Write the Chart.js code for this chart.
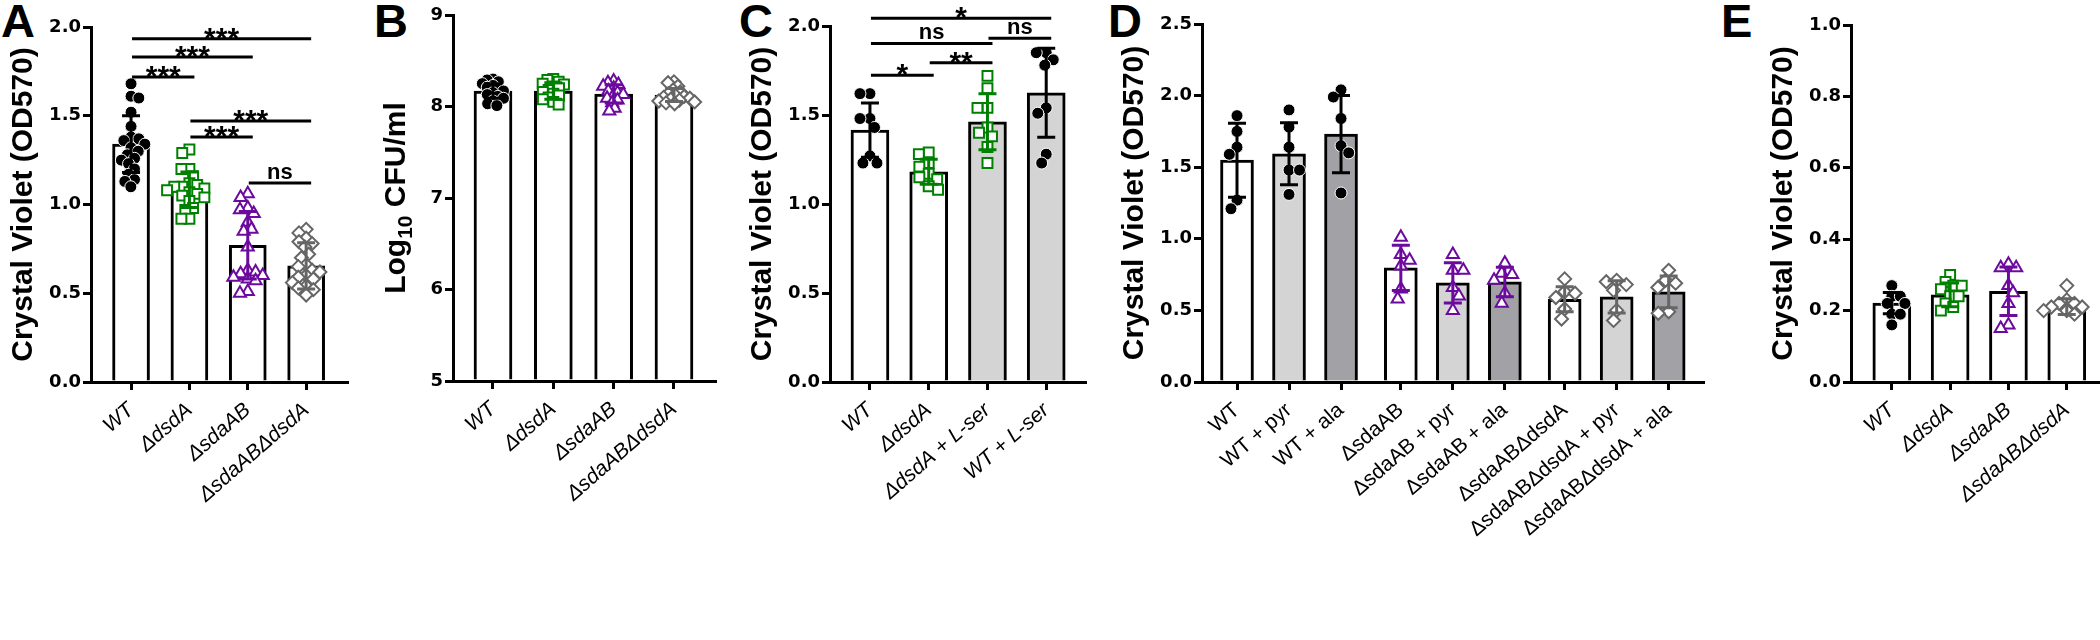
<!DOCTYPE html>
<html>
<head>
<meta charset="utf-8">
<title>Crystal violet biofilm panels</title>
<script src="https://cdn.jsdelivr.net/npm/chart.js"></script>
<style>
  body { margin: 0; width: 2100px; height: 640px; overflow: hidden; background: #fff; position: relative; }
  canvas { position: absolute; top: 0; }
  .tag { position: absolute; top: -3px; font: bold 47px "Liberation Sans", Arial, sans-serif; line-height: 1; color: #000; }
</style>
</head>
<body>
<div class="tag" style="left:1px">A</div>
<div class="tag" style="left:374px">B</div>
<div class="tag" style="left:739px">C</div>
<div class="tag" style="left:1108px">D</div>
<div class="tag" style="left:1721px">E</div>
<script>
const FONT = '"Liberation Sans", Arial, sans-serif';
const TICKFONT = '"DejaVu Sans", sans-serif';

// ---- A: biofilm, strains
const catsA = ['WT', 'ΔdsdA', 'ΔsdaAB', 'ΔsdaABΔdsdA'];
const meanA = [1.34, 1.083, 0.77, 0.654];
const sdA = [0.16, 0.10, 0.19, 0.13];
const ptsA = [
  [1.68, 1.61, 1.60, 1.52, 1.44, 1.38, 1.37, 1.36, 1.34, 1.32, 1.30, 1.28, 1.26, 1.25, 1.23, 1.20, 1.17, 1.14, 1.13, 1.10],
  [1.31, 1.29, 1.20, 1.20, 1.16, 1.12, 1.11, 1.10, 1.10, 1.09, 1.08, 1.07, 1.06, 1.05, 1.04, 1.02, 0.98, 0.97, 0.92, 0.92],
  [1.06, 1.04, 0.98, 0.97, 0.95, 0.90, 0.86, 0.85, 0.76, 0.63, 0.62, 0.61, 0.60, 0.59, 0.58, 0.57, 0.51, 0.50],
  [0.86, 0.84, 0.81, 0.79, 0.78, 0.76, 0.72, 0.70, 0.66, 0.65, 0.63, 0.62, 0.60, 0.59, 0.58, 0.56, 0.54, 0.53, 0.52, 0.49]
];
const sigA = [[0, 1, 1.718, '***'], [0, 2, 1.831, '***'], [0, 3, 1.934, '***'], [1, 2, 1.38, '***'], [1, 3, 1.47, '***'], [2, 3, 1.121, 'ns']];

// ---- B: growth
const catsB = ['WT', 'ΔdsdA', 'ΔsdaAB', 'ΔsdaABΔdsdA'];
const meanB = [8.169, 8.169, 8.137, 8.126];
const sdB = [0.08, 0.09, 0.10, 0.07];
const ptsB = [
  [8.30, 8.29, 8.27, 8.25, 8.23, 8.21, 8.19, 8.17, 8.15, 8.13, 8.11, 8.09, 8.06, 8.03, 8.01],
  [8.30, 8.29, 8.27, 8.25, 8.24, 8.22, 8.20, 8.18, 8.16, 8.14, 8.12, 8.10, 8.08, 8.05, 8.02],
  [8.28, 8.26, 8.24, 8.22, 8.20, 8.17, 8.15, 8.13, 8.11, 8.09, 8.07, 8.04, 7.98, 7.95],
  [8.27, 8.26, 8.22, 8.18, 8.16, 8.14, 8.12, 8.11, 8.10, 8.09, 8.08, 8.07, 8.06, 8.05, 8.04, 8.03]
];

// ---- C: L-serine
const catsC = ['WT', 'ΔdsdA', 'ΔdsdA + L-ser', 'WT + L-ser'];
const meanC = [1.415, 1.181, 1.462, 1.625];
const sdC = [0.152, 0.07, 0.157, 0.25];
const ptsC = [
  [1.62, 1.62, 1.48, 1.48, 1.43, 1.27, 1.23, 1.23],
  [1.29, 1.28, 1.23, 1.21, 1.17, 1.15, 1.14, 1.10, 1.08],
  [1.72, 1.65, 1.54, 1.54, 1.43, 1.40, 1.38, 1.32, 1.23],
  [1.85, 1.85, 1.81, 1.78, 1.54, 1.51, 1.28, 1.23]
];
const sigC = [[0, 1, 1.724, '*'], [1, 2, 1.794, '**'], [0, 2, 1.902, 'ns'], [2, 3, 1.931, 'ns'], [0, 3, 2.043, '*']];

// ---- D: pyruvate / alanine
const catsD = ['WT', 'WT + pyr', 'WT + ala', 'ΔsdaAB', 'ΔsdaAB + pyr', 'ΔsdaAB + ala',
  'ΔsdaABΔdsdA', 'ΔsdaABΔdsdA + pyr', 'ΔsdaABΔdsdA + ala'];
const meanD = [1.549, 1.594, 1.731, 0.797, 0.692, 0.699, 0.578, 0.594, 0.629];
const sdD = [0.258, 0.216, 0.27, 0.158, 0.14, 0.103, 0.088, 0.113, 0.111];
const ptsD = [
  [1.86, 1.75, 1.64, 1.59, 1.27, 1.21],
  [1.90, 1.78, 1.64, 1.48, 1.48, 1.31],
  [2.04, 1.99, 1.84, 1.65, 1.60, 1.32],
  [1.01, 0.89, 0.85, 0.81, 0.65, 0.58],
  [0.89, 0.78, 0.78, 0.66, 0.60, 0.50],
  [0.83, 0.76, 0.75, 0.71, 0.62, 0.55],
  [0.72, 0.63, 0.62, 0.59, 0.51, 0.44],
  [0.71, 0.70, 0.68, 0.64, 0.50, 0.43],
  [0.78, 0.71, 0.69, 0.66, 0.49, 0.48]
];

// ---- E
const catsE = ['WT', 'ΔdsdA', 'ΔsdaAB', 'ΔsdaABΔdsdA'];
const meanE = [0.221, 0.244, 0.254, 0.211];
const sdE = [0.03, 0.033, 0.068, 0.022];
const ptsE = [
  [0.27, 0.24, 0.24, 0.22, 0.22, 0.19, 0.19, 0.16],
  [0.30, 0.28, 0.27, 0.27, 0.26, 0.24, 0.24, 0.22, 0.21, 0.20],
  [0.33, 0.32, 0.32, 0.27, 0.25, 0.22, 0.16, 0.15],
  [0.27, 0.23, 0.22, 0.22, 0.21, 0.21, 0.20, 0.20, 0.19]
];

// marker look per strain
const STYLE = {
  wt:    { color: '#000000', shape: 'circle',   fill: '#000000', border: '#ffffff', bw: 1, r: 6 },
  dsdA:  { color: '#008000', shape: 'rect',     fill: '#ffffff', border: '#008000', bw: 2, r: 7 },
  sdaAB: { color: '#6c0a9e', shape: 'triangle', fill: '#ffffff', border: '#6c0a9e', bw: 2, r: 7 },
  both:  { color: '#666666', shape: 'rectRot',  fill: '#ffffff', border: '#666666', bw: 2, r: 6.5 }
};
const LIGHT = '#d4d4d4', DARK = '#a2a2a6';

const H = 640;
const Y_BOX = 110;

function makePanel(cfg) {
  const cv = document.createElement('canvas');
  cv.width = cfg.right - cfg.axisX + Y_BOX + 30;
  cv.height = H;
  cv.style.left = (cfg.axisX - Y_BOX) + 'px';
  document.body.appendChild(cv);

  const gs = cfg.groupSize || 99, gg = cfg.groupGap || 0;
  const xpos = cfg.cats.map((c, i) => i + Math.floor(i / gs) * gg);
  const styles = cfg.kinds.map(k => STYLE[k]);

  const datasets = [{
    type: 'bar',
    data: cfg.means.map((m, i) => ({ x: xpos[i], y: m })),
    backgroundColor: cfg.fills,
    borderColor: '#000',
    borderWidth: 3,
    barThickness: cfg.barW,
    base: cfg.ymin,
    order: 2
  }];
  cfg.pts.forEach((vals, i) => {
    const st = styles[i];
    datasets.push({
      type: 'scatter',
      data: vals.map(v => ({ x: xpos[i], y: v })),
      pointStyle: st.shape,
      pointRadius: st.r,
      backgroundColor: st.fill,
      borderColor: st.border,
      borderWidth: st.bw,
      order: 1
    });
  });

  const decor = {
    id: 'decor',
    afterDatasetsDraw(chart) {
      const { ctx } = chart, xs = chart.scales.x, ys = chart.scales.y;
      cfg.means.forEach((m, i) => {
        const x = xs.getPixelForValue(xpos[i]);
        const y1 = ys.getPixelForValue(m + cfg.sds[i]);
        const y2 = ys.getPixelForValue(m - cfg.sds[i]);
        ctx.save();
        ctx.strokeStyle = styles[i].color;
        ctx.lineWidth = 3;
        ctx.beginPath();
        ctx.moveTo(x, y1); ctx.lineTo(x, y2);
        ctx.moveTo(x - 9, y1); ctx.lineTo(x + 9, y1);
        ctx.moveTo(x - 9, y2); ctx.lineTo(x + 9, y2);
        ctx.stroke();
        ctx.restore();
      });
    },
    afterDraw(chart) {
      const { ctx, chartArea: ca } = chart, xs = chart.scales.x, ys = chart.scales.y;
      ctx.save();
      ctx.fillStyle = '#000';
      ctx.strokeStyle = '#000';
      (cfg.sig || []).forEach(([a, b, v, t]) => {
        const x1 = xs.getPixelForValue(xpos[a]) + 1;
        const x2 = xs.getPixelForValue(xpos[b]) + 5;
        const y = ys.getPixelForValue(v);
        ctx.lineWidth = 3;
        ctx.beginPath(); ctx.moveTo(x1, y); ctx.lineTo(x2, y); ctx.stroke();
        const star = t.includes('*');
        ctx.font = (star ? 'bold 30px ' : 'bold 22px ') + FONT;
        ctx.textAlign = 'center';
        ctx.textBaseline = 'alphabetic';
        ctx.fillText(t, (x1 + x2) / 2, star ? y + 9 : y - 4);
      });

      // y axis title
      ctx.translate(ca.left - cfg.titleOff, (ca.top + ca.bottom) / 2);
      ctx.rotate(-Math.PI / 2);
      ctx.textBaseline = 'alphabetic';
      const big = 'bold 30px ' + FONT, small = 'bold 21px ' + FONT;
      if (cfg.title.length === 3) {
        const [p1, sub, p2] = cfg.title;
        ctx.font = big; const w1 = ctx.measureText(p1).width, w3 = ctx.measureText(p2).width;
        ctx.font = small; const w2 = ctx.measureText(sub).width;
        let x = -(w1 + w2 + w3) / 2;
        ctx.textAlign = 'left';
        ctx.font = big; ctx.fillText(p1, x, 0); x += w1;
        ctx.font = small; ctx.fillText(sub, x, 7); x += w2;
        ctx.font = big; ctx.fillText(p2, x, 0);
      } else {
        ctx.font = big;
        ctx.textAlign = 'center';
        ctx.fillText(cfg.title[0], 0, 0);
      }
      ctx.restore();
    }
  };

  const axisLine = { display: true, width: 3, color: '#000' };
  const tickMarks = { display: true, drawOnChartArea: false, drawTicks: true, tickLength: 8, lineWidth: 3, color: '#000', offset: false };

  const chart = new Chart(cv, {
    type: 'bar',
    data: { datasets },
    plugins: [decor],
    options: {
      responsive: false,
      animation: false,
      events: [],
      layout: { padding: { left: 0, right: 30, top: cfg.top, bottom: 0 } },
      plugins: { legend: { display: false }, tooltip: { enabled: false } },
      scales: {
        x: {
          type: 'linear',
          min: cfg.xmin, max: cfg.xmax,
          offset: false,
          grid: tickMarks,
          border: axisLine,
          afterBuildTicks: s => { s.ticks = xpos.map(v => ({ value: v })); },
          afterFit: s => { s.height = H - cfg.bottom; },
          ticks: {
            autoSkip: false,
            minRotation: 41, maxRotation: 41,
            padding: 8,
            color: '#000',
            font: { family: FONT, size: 21, style: cfg.italic ? 'italic' : 'normal' },
            callback: (v, i) => cfg.cats[i]
          }
        },
        y: {
          min: cfg.ymin, max: cfg.ymax,
          grid: tickMarks,
          border: axisLine,
          afterFit: s => { s.width = Y_BOX; },
          ticks: {
            stepSize: cfg.step,
            padding: 2,
            color: '#000',
            font: { family: TICKFONT, size: 18, weight: 'bold' },
            callback: v => v.toFixed(cfg.dec)
          }
        }
      }
    }
  });

  // lay the points out side by side, like a column scatter
  const xs = chart.scales.x, ys = chart.scales.y;
  cfg.pts.forEach((vals, i) => {
    const ds = chart.data.datasets[i + 1];
    const cx = xs.getPixelForValue(xpos[i]);
    const d = cfg.gap;
    const placed = [];
    ds.data = vals.map((v, k) => {
      const py = ys.getPixelForValue(v);
      const cands = [0];
      placed.forEach(p => {
        const dy = Math.abs(p.y - py);
        if (dy < d) {
          const w = Math.sqrt(d * d - dy * dy);
          cands.push(p.x - w, p.x + w);
        }
      });
      cands.sort((a, b) => Math.abs(a) - Math.abs(b) || (k % 2 ? a - b : b - a));
      const dx = cands.find(c => placed.every(p => (p.x - c) ** 2 + (p.y - py) ** 2 >= d * d - 0.5));
      placed.push({ x: dx, y: py });
      return { x: xs.getValueForPixel(cx + dx), y: v };
    });
  });
  chart.update('none');
  return chart;
}

makePanel({
  cats: catsA, means: meanA, sds: sdA, pts: ptsA, sig: sigA,
  kinds: ['wt', 'dsdA', 'sdaAB', 'both'],
  fills: ['#fff', '#fff', '#fff', '#fff'],
  axisX: 91, right: 347, top: 27, bottom: 382,
  xmin: -0.686, xmax: 3.70, ymin: 0, ymax: 2.0, step: 0.5, dec: 1,
  barW: 37, italic: true, gap: 8,
  title: ['Crystal Violet (OD570)'], titleOff: 59
});

makePanel({
  cats: catsB, means: meanB, sds: sdB, pts: ptsB,
  kinds: ['wt', 'dsdA', 'sdaAB', 'both'],
  fills: ['#fff', '#fff', '#fff', '#fff'],
  axisX: 453, right: 715, top: 15, bottom: 381,
  xmin: -0.663, xmax: 3.68, ymin: 5, ymax: 9, step: 1, dec: 0,
  barW: 38, italic: true, gap: 6,
  title: ['Log', '10', ' CFU/ml'], titleOff: 48
});

makePanel({
  cats: catsC, means: meanC, sds: sdC, pts: ptsC, sig: sigC,
  kinds: ['wt', 'dsdA', 'dsdA', 'wt'],
  fills: ['#fff', '#fff', LIGHT, LIGHT],
  axisX: 830, right: 1085, top: 26, bottom: 382,
  xmin: -0.68, xmax: 3.66, ymin: 0, ymax: 2.0, step: 0.5, dec: 1,
  barW: 38, italic: true, gap: 10,
  title: ['Crystal Violet (OD570)'], titleOff: 59
});

makePanel({
  cats: catsD, means: meanD, sds: sdD, pts: ptsD,
  kinds: ['wt', 'wt', 'wt', 'sdaAB', 'sdaAB', 'sdaAB', 'both', 'both', 'both'],
  fills: ['#fff', LIGHT, DARK, '#fff', LIGHT, DARK, '#fff', LIGHT, DARK],
  groupSize: 3, groupGap: 0.15,
  axisX: 1202, right: 1703, top: 24, bottom: 382,
  xmin: -0.673, xmax: 8.96, ymin: 0, ymax: 2.5, step: 0.5, dec: 1,
  barW: 33, italic: false, gap: 10.5,
  title: ['Crystal Violet (OD570)'], titleOff: 59
});

makePanel({
  cats: catsE, means: meanE, sds: sdE, pts: ptsE,
  kinds: ['wt', 'dsdA', 'sdaAB', 'both'],
  fills: ['#fff', '#fff', '#fff', '#fff'],
  axisX: 1851, right: 2100, top: 25, bottom: 382,
  xmin: -0.70, xmax: 3.57, ymin: 0, ymax: 1.0, step: 0.2, dec: 1,
  barW: 38, italic: true, gap: 8.5,
  title: ['Crystal Violet (OD570)'], titleOff: 59
});
</script>
</body>
</html>
